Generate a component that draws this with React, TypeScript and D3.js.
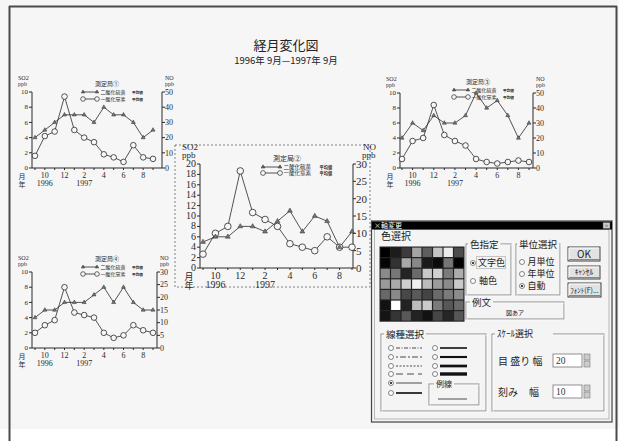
import React from 'react';
import * as d3 from 'd3';

const months = ["9", "10", "11", "12", "1", "2", "3", "4", "5", "6", "7", "8", "9"];
const shownMonths = ["10", "12", "2", "4", "6", "8"];
const yearLabels = [{ idx: 1, text: "1996" }, { idx: 5, text: "1997" }];

const so2Station1 = [4, 5, 6, 7, 7, 7, 6, 8, 7, 7, 6, 4, 5];
const noStation1 = [8, 21, 24, 47, 25, 20, 17, 9, 7, 4, 15, 7, 6];
const so2Station2 = [5, 6, 6, 8, 8, 7, 9, 11, 7, 10, 9, 4, 7];
const noStation2 = [4, 10, 12, 28, 16, 14, 12, 7, 6, 5, 9, 6, 6];
const so2Station3 = [4, 6, 5, 7, 6, 6, 7, 10, 8, 9, 7, 4, 6];
const noStation3 = [6, 18, 20, 42, 22, 18, 15, 6, 4, 3, 4, 5, 4];
const so2Station4 = [4, 5, 5, 6, 6, 6, 7, 8, 6, 8, 6, 5, 5];
const noStation4 = [6, 9, 11, 24, 14, 13, 12, 6, 4, 5, 9, 7, 6];

const stationNames = ["測定局①", "測定局②", "測定局③", "測定局④"];
const seriesNames = ["二酸化硫黄", "一酸化窒素"];
const legendNote = "平均値";

const titleText = "経月変化図";
const subtitleText = "1996年 9月—1997年 9月";

const paletteRows = [
  ["#000", "#1c1c1c", "#3c3c3c", "#a4a4a4", "#5e5e5e", "#c4c4c4", "#ececec", "#4c4c4c"],
  ["#050505", "#333", "#a8a8a8", "#888", "#1a1a1a", "#0c0c0c", "#767676", "#020202"],
  ["#8a8a8a", "#777", "#242424", "#6a6a6a", "#c8c8c8", "#d0d0d0", "#7a7a7a", "#acacac"],
  ["#9a9a9a", "#aaa", "#cfcfcf", "#f0f0f0", "#bcbcbc", "#9c9c9c", "#8a8a8a", "#cacaca"],
  ["#686868", "#8a8a8a", "#484848", "#5a5a5a", "#444", "#6a6a6a", "#7a7a7a", "#8c8c8c"],
  ["#121212", "#fff", "#222", "#bcbcbc", "#cacaca", "#7a7a7a", "#575757", "#6a6a6a"],
  ["#141414", "#353535", "#585858", "#232323", "#121212", "#464646", "#262626", "#565656"],
];

const lineDashes = ["4,1.5,1,1.5", "2,2,6,2", "2,1.5", "7,4", "", ""];
const lineWidths1 = [0.8, 0.8, 0.8, 0.8, 0.8, 1.8];
const lineWidths2 = [1.6, 2.1, 2.7, 3.4];

const FONT_JP = '"Noto Sans CJK JP", sans-serif';
const FONT_NUM = '"Liberation Serif", "DejaVu Serif", serif';

type Cfg = {
  lx: number; rx: number; top: number; bottom: number; x0: number; x1: number;
  leftMax: number; leftStep: number; rightMax: number; rightStep: number;
  so2: number[]; no: number[]; name: string; legend: [number, number]; big?: boolean;
};

function Chart({ cfg }: { cfg: Cfg }) {
  const { lx, rx, top, bottom, x0, x1, leftMax, leftStep, rightMax, rightStep, so2, no, name, legend, big } = cfg;
  const x = d3.scaleLinear().domain([0, months.length - 1]).range([x0, x1]);
  const yL = d3.scaleLinear().domain([0, leftMax]).range([bottom, top]);
  const yR = d3.scaleLinear().domain([0, rightMax]).range([bottom, top]);
  const lineL = d3.line<number>().x((_, i) => x(i)).y(d => yL(d));
  const lineR = d3.line<number>().x((_, i) => x(i)).y(d => yR(d));
  const lt = d3.range(0, leftMax + 0.001, leftStep);
  const rt = d3.range(0, rightMax + 0.001, rightStep);
  const s = big
    ? { tick: 10, unit: 9, month: 10, ym: 9, name: 7, row: 5.5, r: 3.3, lr: 2.4, tri: 10, ltri: 6, rowDy: [8, 14], sample: 17 }
    : { tick: 7, unit: 6, month: 8, ym: 7, name: 6, row: 5, r: 2.8, lr: 2.3, tri: 7, ltri: 5, rowDy: [8, 15], sample: 14 };
  const tri = d3.symbol().type(d3.symbolTriangle).size(s.tri)();
  const ltri = d3.symbol().type(d3.symbolTriangle).size(s.ltri)();
  const col = "#2a2a2a";
  const [lgx, lgy] = legend;
  const sx0 = lgx - 24;
  return (
    <g>
      <text x={lx - (big ? 18 : 14)} y={top - (big ? 14 : 12)} fontSize={s.unit} fontFamily={FONT_NUM} fill={col}>SO2</text>
      <text x={lx - (big ? 18 : 14)} y={top - 6} fontSize={s.unit} fontFamily={FONT_NUM} fill={col}>ppb</text>
      <text x={rx + (big ? 10 : 3)} y={top - (big ? 14 : 12)} fontSize={s.unit} fontFamily={FONT_NUM} fill={col}>NO</text>
      <text x={rx + (big ? 9 : 3)} y={top - 6} fontSize={s.unit} fontFamily={FONT_NUM} fill={col}>ppb</text>
      <line x1={lx} x2={lx} y1={top} y2={bottom} stroke={col} strokeWidth={1} />
      <line x1={rx} x2={rx} y1={top} y2={bottom} stroke={col} strokeWidth={1} />
      <line x1={lx} x2={rx} y1={bottom} y2={bottom} stroke={col} strokeWidth={1} />
      {lt.map(v => (
        <g key={'l' + v}>
          <line x1={lx - 3} x2={lx} y1={yL(v)} y2={yL(v)} stroke={col} />
          <text x={lx - 4} y={yL(v) + s.tick * 0.3} fontSize={s.tick} textAnchor="end" fontFamily={FONT_NUM} fill={col}>{v}</text>
        </g>
      ))}
      {rt.map(v => (
        <g key={'r' + v}>
          <line x1={rx} x2={rx + 3} y1={yR(v)} y2={yR(v)} stroke={col} />
          <text x={rx + 3} y={yR(v) + s.tick * 0.4} fontSize={s.tick + 1} fontFamily={FONT_NUM} fill={col}>{v}</text>
        </g>
      ))}
      {months.map((m, i) => (
        <g key={'m' + i}>
          <line x1={x(i)} x2={x(i)} y1={bottom} y2={bottom + 2} stroke={col} />
          {shownMonths.includes(m) && (i > 0 && i < months.length - 1) ? (
            <text x={x(i)} y={bottom + (big ? 11 : 10)} fontSize={s.month} textAnchor="middle" fontFamily={FONT_NUM} fill={col}>{m}</text>
          ) : null}
        </g>
      ))}
      <text x={lx - (big ? 11 : 10)} y={bottom + (big ? 12 : 10.5)} fontSize={s.ym} textAnchor="middle" fontFamily={FONT_JP} fill={col}>月</text>
      <text x={lx - (big ? 11 : 10)} y={bottom + (big ? 21 : 18.5)} fontSize={s.ym} textAnchor="middle" fontFamily={FONT_JP} fill={col}>年</text>
      {yearLabels.map(y => (
        <text key={y.text} x={x(y.idx)} y={bottom + (big ? 20 : 18)} fontSize={s.month} textAnchor="middle" fontFamily={FONT_NUM} fill={col}>{y.text}</text>
      ))}
      <text x={lgx} y={lgy + s.name * 0.35} fontSize={s.name} textAnchor="middle" fontFamily={FONT_JP} fill={col}>{name}</text>
      {[0, 1].map(k => {
        const yy = lgy + s.rowDy[k];
        const a = sx0, b = sx0 + s.sample;
        return (
          <g key={'lg' + k}>
            <line x1={a} x2={b} y1={yy} y2={yy} stroke={col} strokeWidth={0.8} />
            {k === 0 ? (
              <>
                <path d={ltri!} transform={`translate(${a},${yy})`} fill="#666" stroke={col} strokeWidth={0.5} />
                <path d={ltri!} transform={`translate(${b},${yy})`} fill="#666" stroke={col} strokeWidth={0.5} />
              </>
            ) : (
              <>
                <circle cx={a} cy={yy} r={s.lr} fill="#f7f7f7" stroke={col} strokeWidth={0.7} />
                <circle cx={b} cy={yy} r={s.lr} fill="#f7f7f7" stroke={col} strokeWidth={0.7} />
              </>
            )}
            <text x={b + 3.5} y={yy + s.row * 0.38} fontSize={s.row} fontFamily={FONT_JP} fill={col}>{seriesNames[k]}</text>
            <text x={b + 3 + s.row * 5 + (big ? 9 : 7)} y={yy + s.row * 0.35} fontSize={s.row - 1.3} fontFamily={FONT_JP} fill={col} fontWeight="bold">{legendNote}</text>
          </g>
        );
      })}
      <path d={lineR(no)!} fill="none" stroke={col} strokeWidth={0.8} />
      <path d={lineL(so2)!} fill="none" stroke={col} strokeWidth={0.8} />
      {no.map((v, i) => (
        <circle key={'c' + i} cx={x(i)} cy={yR(v)} r={s.r} fill="#f7f7f7" stroke={col} strokeWidth={0.8} />
      ))}
      {so2.map((v, i) => (
        <path key={'t' + i} d={tri!} transform={`translate(${x(i)},${yL(v)})`} fill="#777" stroke={col} strokeWidth={0.5} />
      ))}
    </g>
  );
}

function GroupBox({ x, y, w, h, label, lx, fs = 10 }: { x: number; y: number; w: number; h: number; label: string; lx: number; fs?: number }) {
  const lw = label.length * fs + 4;
  return (
    <g>
      <rect x={x} y={y} width={w} height={h} fill="none" stroke="#8a8a8a" strokeWidth={1} />
      <rect x={x + 1} y={y + 1} width={w} height={h} fill="none" stroke="#fff" strokeWidth={0.6} />
      <rect x={lx - 2} y={y - 3} width={lw} height={6} fill="#f4f4f4" />
      <text x={lx} y={y + fs * 0.38} fontSize={fs} fontFamily={FONT_JP} fill="#222">{label}</text>
    </g>
  );
}

function Radio({ cx, cy, on }: { cx: number; cy: number; on?: boolean }) {
  return (
    <g>
      <circle cx={cx} cy={cy} r={2.5} fill="#fff" stroke="#666" strokeWidth={0.8} />
      {on ? <circle cx={cx} cy={cy} r={1.1} fill="#111" /> : null}
    </g>
  );
}

function Button({ x, y, w, h, label, fs }: { x: number; y: number; w: number; h: number; label: string; fs: number }) {
  return (
    <g>
      <rect x={x} y={y} width={w} height={h} fill="#e2e2e2" stroke="#444" strokeWidth={1} />
      <line x1={x + 1} x2={x + w - 1} y1={y + 1} y2={y + 1} stroke="#fff" />
      <line x1={x + 1} x2={x + 1} y1={y + 1} y2={y + h - 1} stroke="#fff" />
      <line x1={x + 1} x2={x + w - 1} y1={y + h - 1.5} y2={y + h - 1.5} stroke="#888" />
      <text x={x + w / 2} y={y + h / 2 + fs * 0.36} fontSize={fs} textAnchor="middle" fontFamily={FONT_JP} fill="#222">{label}</text>
    </g>
  );
}

function Dialog() {
  const gx = 380, gy = 247, cw = 10.5, ch = 10.6;
  const rowsY = [348, 357, 366, 374, 383, 393];
  return (
    <g>
      <rect x={371.5} y={221} width={240.5} height={201} fill="#f4f4f4" stroke="#444" strokeWidth={1.2} />
      <rect x={374.5} y={229.5} width={234.5} height={189.5} fill="none" stroke="#aaa" strokeWidth={0.8} />
      <rect x={372} y={221.5} width={240} height={8} fill="#000" />
      <text x={374} y={228} fontSize={7} fontFamily={FONT_JP} fill="#fff">×軸変更</text>
      <rect x={603} y={222.5} width={7} height={6} fill="#ccc" stroke="#555" strokeWidth={0.5} />
      <text x={606.5} y={227.8} fontSize={6} textAnchor="middle" fontFamily={FONT_NUM} fill="#222">×</text>
      <text x={381} y={240} fontSize={10} fontFamily={FONT_JP} fill="#222">色選択</text>
      <rect x={gx - 0.5} y={gy - 0.5} width={cw * 8 + 1} height={ch * 7 + 1} fill="#222" />
      {paletteRows.map((row, r) => row.map((c, k) => (
        <rect key={r + '-' + k} x={gx + k * cw + 0.6} y={gy + r * ch + 0.6} width={cw - 1.2} height={ch - 1.2} fill={c} />
      )))}
      <GroupBox x={466} y={244} w={45} h={51} label="色指定" lx={470} fs={9.5} />
      <Radio cx={473} cy={263} on />
      <rect x={476.5} y={256.5} width={29} height={12} fill="none" stroke="#555" strokeWidth={0.6} strokeDasharray="1,1" />
      <text x={478} y={266} fontSize={9} fontFamily={FONT_JP} fill="#222">文字色</text>
      <Radio cx={473} cy={281} />
      <text x={479} y={284} fontSize={9} fontFamily={FONT_JP} fill="#222">軸色</text>
      <GroupBox x={516} y={244} w={44} h={51} label="単位選択" lx={519} fs={9.5} />
      <Radio cx={522} cy={262} />
      <text x={527.5} y={265.3} fontSize={9} fontFamily={FONT_JP} fill="#222">月単位</text>
      <Radio cx={522} cy={274} />
      <text x={527.5} y={277.3} fontSize={9} fontFamily={FONT_JP} fill="#222">年単位</text>
      <Radio cx={522} cy={286} on />
      <text x={527.5} y={289.3} fontSize={9} fontFamily={FONT_JP} fill="#222">自動</text>
      <Button x={568} y={247} w={32} h={14} label="OK" fs={10} />
      <Button x={568} y={266} w={32} h={13} label="ｷｬﾝｾﾙ" fs={7.5} />
      <Button x={568} y={283} w={33} h={14} label="ﾌｫﾝﾄ(F)..." fs={7} />
      <GroupBox x={466} y={302} w={98} h={17} label="例文" lx={472} fs={9.5} />
      <text x={515} y={315} fontSize={6} textAnchor="middle" fontFamily={FONT_JP} fill="#222">図あア</text>
      <GroupBox x={381} y={334} w={105} h={77} label="線種選択" lx={386} fs={9.5} />
      {rowsY.map((yy, i) => (
        <g key={'lt' + i}>
          <Radio cx={391} cy={yy} on={i === 4} />
          <line x1={396} x2={422} y1={yy} y2={yy} stroke="#222" strokeWidth={lineWidths1[i]} strokeDasharray={lineDashes[i] || undefined} />
        </g>
      ))}
      {lineWidths2.map((w, i) => (
        <g key={'lw' + i}>
          <Radio cx={435} cy={rowsY[i]} />
          <line x1={440} x2={467} y1={rowsY[i]} y2={rowsY[i]} stroke="#111" strokeWidth={w} />
        </g>
      ))}
      <GroupBox x={429} y={384} w={50} h={21} label="例線" lx={436} fs={8} />
      <line x1={438} x2={467} y1={399} y2={399} stroke="#222" strokeWidth={0.8} />
      <GroupBox x={492} y={334} w={112} h={77} label="ｽｹｰﾙ選択" lx={497} fs={9} />
      <text x={498} y={365} fontSize={10} fontFamily={FONT_JP} fill="#222">目 盛り 幅</text>
      <rect x={553} y={354} width={29} height={13} fill="#fff" stroke="#777" strokeWidth={0.8} />
      <text x={556} y={364} fontSize={9.5} fontFamily={FONT_NUM} fill="#333">20</text>
      <rect x={584} y={354} width={6} height={6} fill="#ccc" stroke="#666" strokeWidth={0.5} />
      <rect x={584} y={361} width={6} height={6} fill="#ccc" stroke="#666" strokeWidth={0.5} />
      <text x={498} y={396} fontSize={10} fontFamily={FONT_JP} fill="#222">刻み</text>
      <text x={529} y={396} fontSize={10} fontFamily={FONT_JP} fill="#222">幅</text>
      <rect x={553} y={385} width={29} height={13} fill="#fff" stroke="#777" strokeWidth={0.8} />
      <text x={556} y={395} fontSize={9.5} fontFamily={FONT_NUM} fill="#333">10</text>
      <rect x={584} y={385} width={6} height={6} fill="#ccc" stroke="#666" strokeWidth={0.5} />
      <rect x={584} y={392} width={6} height={6} fill="#ccc" stroke="#666" strokeWidth={0.5} />
    </g>
  );
}

const charts: Cfg[] = [
  { lx: 32, rx: 162, top: 92, bottom: 168, x0: 35, x1: 153, leftMax: 10, leftStep: 2, rightMax: 50, rightStep: 10, so2: so2Station1, no: noStation1, name: stationNames[0], legend: [107, 84] },
  { lx: 400, rx: 533, top: 93, bottom: 168, x0: 402, x1: 529, leftMax: 10, leftStep: 2, rightMax: 50, rightStep: 10, so2: so2Station3, no: noStation3, name: stationNames[2], legend: [478, 82] },
  { lx: 32, rx: 157, top: 272, bottom: 348, x0: 35, x1: 153, leftMax: 10, leftStep: 2, rightMax: 30, rightStep: 5, so2: so2Station4, no: noStation4, name: stationNames[3], legend: [107, 259] },
  { lx: 200, rx: 353, top: 164, bottom: 268, x0: 203, x1: 352, leftMax: 20, leftStep: 2, rightMax: 30, rightStep: 5, so2: so2Station2, no: noStation2, name: stationNames[1], legend: [287, 159], big: true },
];

export default function App() {
  return (
    <svg width={619} height={441} style={{ position: 'absolute', left: 0, top: 0 }} xmlns="http://www.w3.org/2000/svg">
      <rect x={0} y={0} width={619} height={441} fill="#fff" />
      <rect x={0} y={0} width={619} height={429} fill="#f6f6f6" />
      <line x1={9.5} x2={9.5} y1={6} y2={441} stroke="#4a4a4a" strokeWidth={2} />
      <line x1={9} x2={617} y1={6.5} y2={6.5} stroke="#4a4a4a" strokeWidth={2} />
      <line x1={616.5} x2={616.5} y1={6} y2={441} stroke="#4a4a4a" strokeWidth={2} />
      <text x={286} y={50} fontSize={13} textAnchor="middle" fontFamily={FONT_JP} fill="#222">{titleText}</text>
      <text x={286} y={63.5} fontSize={9.5} textAnchor="middle" fontFamily={FONT_JP} fill="#222">{subtitleText}</text>
      <rect x={175} y={145} width={195} height={142} fill="none" stroke="#666" strokeWidth={0.8} strokeDasharray="2,2" />
      {charts.map((c, i) => <Chart key={i} cfg={c} />)}
      <Dialog />
    </svg>
  );
}
